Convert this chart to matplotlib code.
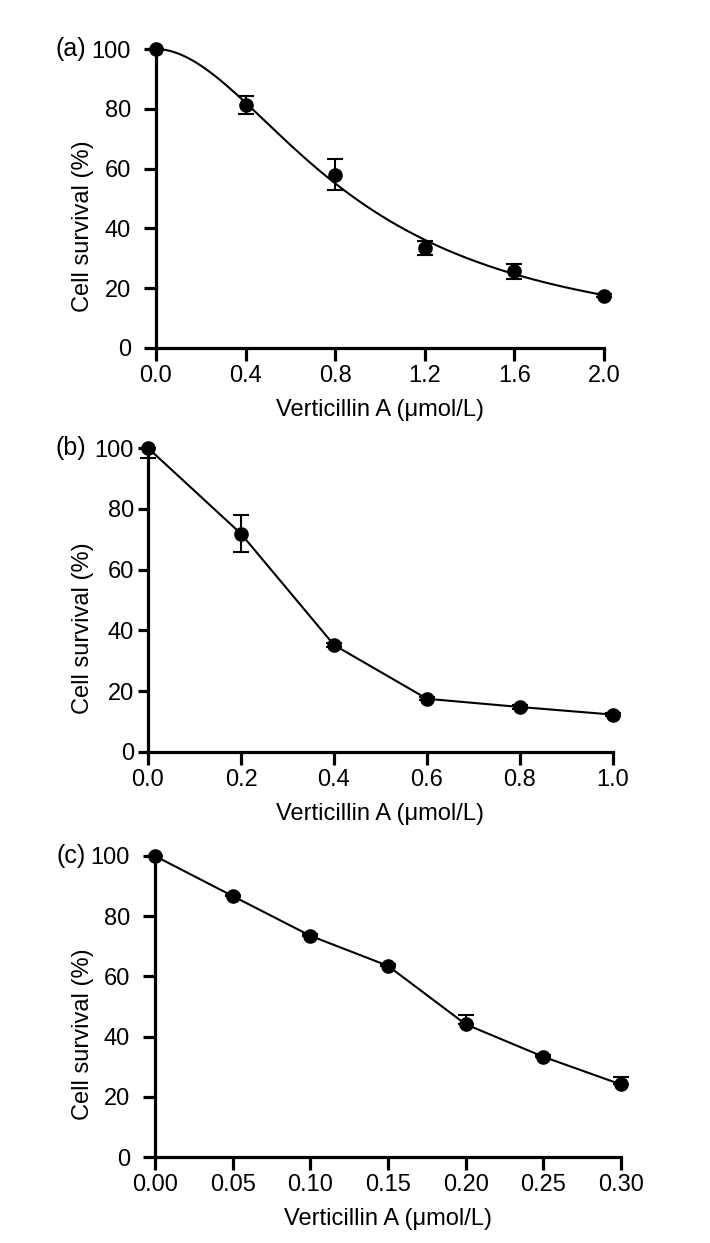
import numpy as np
import matplotlib
matplotlib.use('Agg')
from matplotlib import pyplot as plt

plt.rcParams['font.family'] = ['Liberation Sans', 'DejaVu Sans']

# (a) 0 ~ 2.0 umol/L, dose-response fit curve
dose_a = [0.0, 0.4, 0.8, 1.2, 1.6, 2.0]
surv_a = [100.0, 81.4, 58.0, 33.4, 25.6, 17.4]
err_a = [0.0, 3.0, 5.1, 2.4, 2.4, 0.5]
fit_top, fit_bottom, fit_ic50, fit_hill = 100.0, 0.0, 0.89, 1.9

# (b) 0 ~ 1.0 umol/L
dose_b = [0.0, 0.2, 0.4, 0.6, 0.8, 1.0]
surv_b = [100.0, 71.8, 35.2, 17.5, 14.8, 12.3]
err_b_lo = [3.3, 6.0, 0.5, 0.5, 0.5, 0.5]
err_b_hi = [0.0, 6.0, 0.5, 0.5, 0.5, 0.5]

# (c) 0 ~ 0.30 umol/L
dose_c = [0.0, 0.05, 0.10, 0.15, 0.20, 0.25, 0.30]
surv_c = [100.0, 86.7, 73.5, 63.5, 44.1, 33.3, 24.1]
err_c_lo = [0.0, 0.0, 0.0, 0.0, 0.0, 0.0, 0.0]
err_c_hi = [0.0, 0.5, 0.5, 0.5, 3.1, 0.5, 2.5]

xt_a = [0.0, 0.4, 0.8, 1.2, 1.6, 2.0]
xt_b = [0.0, 0.2, 0.4, 0.6, 0.8, 1.0]
xt_c = [0.0, 0.05, 0.10, 0.15, 0.20, 0.25, 0.30]
xtl_a = ['0.0', '0.4', '0.8', '1.2', '1.6', '2.0']
xtl_b = ['0.0', '0.2', '0.4', '0.6', '0.8', '1.0']
xtl_c = ['0.00', '0.05', '0.10', '0.15', '0.20', '0.25', '0.30']
yt = [0, 20, 40, 60, 80, 100]

W, H = 710, 1243
fig = plt.figure(figsize=(W / 100, H / 100), dpi=100)


def px_box(l, r, t, b):
    return [l / W, 1 - b / H, (r - l) / W, (b - t) / H]


def style_ax(ax, xmax, xt, xtl, ylen=9, ypad=9):
    ax.set_xlim(0, xmax)
    ax.set_ylim(0, 100)
    ax.set_xticks(xt)
    ax.set_xticklabels(xtl)
    ax.set_yticks(yt)
    for s in ['top', 'right']:
        ax.spines[s].set_visible(False)
    for s in ['left', 'bottom']:
        ax.spines[s].set_linewidth(2.3)
    ax.tick_params(direction='out', width=2.3, labelsize=17)
    ax.tick_params(axis='x', length=9, pad=3)
    ax.tick_params(axis='y', length=ylen, pad=ypad)
    ax.set_facecolor('none')


def draw(ax, x, y, lo, hi, line=True):
    ax.errorbar(x, y, yerr=[lo, hi], fmt='none', ecolor='black',
                elinewidth=1.5, capsize=5.5, capthick=1.5, clip_on=False, zorder=3)
    if line:
        ax.plot(x, y, color='black', lw=1.5, clip_on=False, zorder=2)
    ax.plot(x, y, 'o', color='black', ms=9.5, clip_on=False, zorder=4)


boxes = [(156, 604, 49, 348), (148, 613, 448, 752), (155, 621, 856, 1157)]

# (a)
ax1 = fig.add_axes(px_box(*boxes[0]))
xx = np.linspace(0, 2.0, 200)
yy = fit_bottom + (fit_top - fit_bottom) / (1 + (xx / fit_ic50) ** fit_hill)
ax1.plot(xx, yy, color='black', lw=1.5, clip_on=False, zorder=2)
draw(ax1, dose_a, surv_a, err_a, err_a, line=False)
style_ax(ax1, 2.0, xt_a, xtl_a)

# (b)
ax2 = fig.add_axes(px_box(*boxes[1]))
draw(ax2, dose_b, surv_b, err_b_lo, err_b_hi)
style_ax(ax2, 1.0, xt_b, xtl_b, ylen=7, ypad=3)

# (c)
ax3 = fig.add_axes(px_box(*boxes[2]))
draw(ax3, dose_c, surv_c, err_c_lo, err_c_hi)
style_ax(ax3, 0.30, xt_c, xtl_c)

# axis titles and panel letters
for (l, r, t, b), letter in zip(boxes, ['(a)', '(b)', '(c)']):
    fig.text(83 / W, 1 - ((t + b) / 2 + 28) / H, 'Cell survival (%)', rotation=90,
             ha='center', va='center', fontsize=17)
    fig.text((l + r) / 2 / W, 1 - (b + 62) / H, 'Verticillin A (μmol/L)',
             ha='center', va='center', fontsize=17)
    fig.text(71 / W, 1 - t / H, letter, ha='center', va='center', fontsize=18)

fig.savefig('out.png', dpi=100, facecolor='white')
